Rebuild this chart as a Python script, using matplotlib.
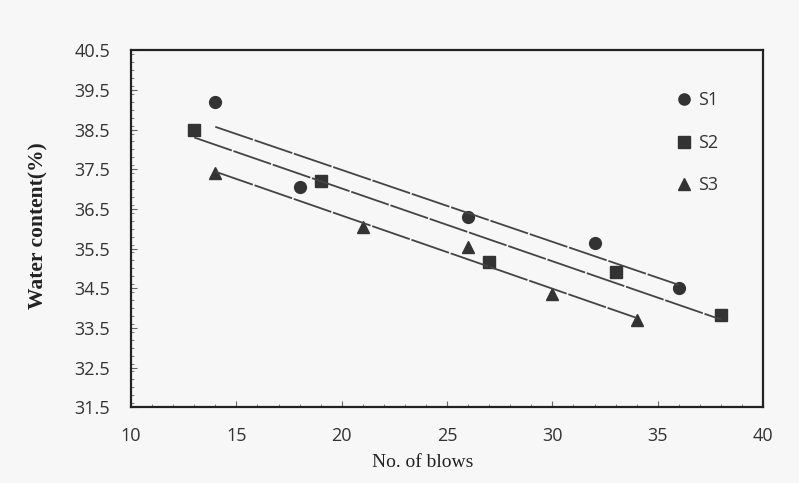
import numpy as np
import matplotlib.pyplot as plt
from matplotlib.ticker import MultipleLocator

# blows vs water content for the three soil samples
s1_blows = [14, 18, 26, 32, 36]
s1_water = [39.2, 37.05, 36.3, 35.65, 34.5]

s2_blows = [13, 19, 27, 33, 38]
s2_water = [38.5, 37.2, 35.15, 34.9, 33.82]

s3_blows = [14, 21, 26, 30, 34]
s3_water = [37.4, 36.05, 35.55, 34.35, 33.7]

labels = ['S1', 'S2', 'S3']
markers = ['o', 's', '^']
y_ticks = [31.5, 32.5, 33.5, 34.5, 35.5, 36.5, 37.5, 38.5, 39.5, 40.5]

fig = plt.figure(figsize=(7.99, 4.83), dpi=100, facecolor='#f7f7f7')
ax = fig.add_axes([0.164, 0.157, 0.791, 0.739])
ax.set_facecolor('#f7f7f7')

ink = '#333333'
series = [(s1_blows, s1_water), (s2_blows, s2_water), (s3_blows, s3_water)]
for (bx, wy), lab, mk in zip(series, labels, markers):
    ax.plot(bx, wy, linestyle='none', marker=mk, markersize=8.5,
            color=ink, label=lab)
    # linear trend line over the data range
    k, b = np.polyfit(bx, wy, 1)
    xs = np.array([min(bx), max(bx)])
    ax.plot(xs, k * xs + b, color='#444444', linewidth=1.3,
            dashes=(22, 1))

ax.set_xlim(10, 40)
ax.set_ylim(31.5, 40.5)
ax.xaxis.set_major_locator(MultipleLocator(5))
ax.xaxis.set_minor_locator(MultipleLocator(1))
ax.set_yticks(y_ticks)
ax.yaxis.set_minor_locator(MultipleLocator(0.2))
ax.yaxis.set_major_formatter(plt.FormatStrFormatter('%.1f'))

ax.tick_params(which='both', direction='in', color='#666666')
ax.tick_params(which='major', length=4, width=0.8)
ax.tick_params(which='minor', length=2.5, width=0.6)
ax.tick_params(axis='y', which='major', pad=15)
ax.tick_params(axis='x', which='major', pad=14)
for t in ax.get_xticklabels() + ax.get_yticklabels():
    t.set_fontfamily('Open Sans')
    t.set_fontsize(13)
    t.set_color('#333333')

for sp in ax.spines.values():
    sp.set_linewidth(1.6)
    sp.set_color('#222222')

ax.set_xlabel('No. of blows', family='Liberation Serif', fontsize=14,
              color='#222222')
ax.xaxis.set_label_coords(0.462, -0.13)
ax.set_ylabel('Water content(%)', family='Liberation Serif',
              fontweight='bold', fontsize=15.5, color='#222222')
ax.yaxis.set_label_coords(-0.13, 0.51)

leg = ax.legend(loc='upper right', bbox_to_anchor=(0.955, 0.93), frameon=False,
                prop={'family': 'Open Sans', 'size': 13},
                labelspacing=1.35, handletextpad=0.2, handlelength=1.2,
                markerscale=0.95)
for t in leg.get_texts():
    t.set_color('#333333')

fig.savefig('out.png', dpi=100, facecolor=fig.get_facecolor())
